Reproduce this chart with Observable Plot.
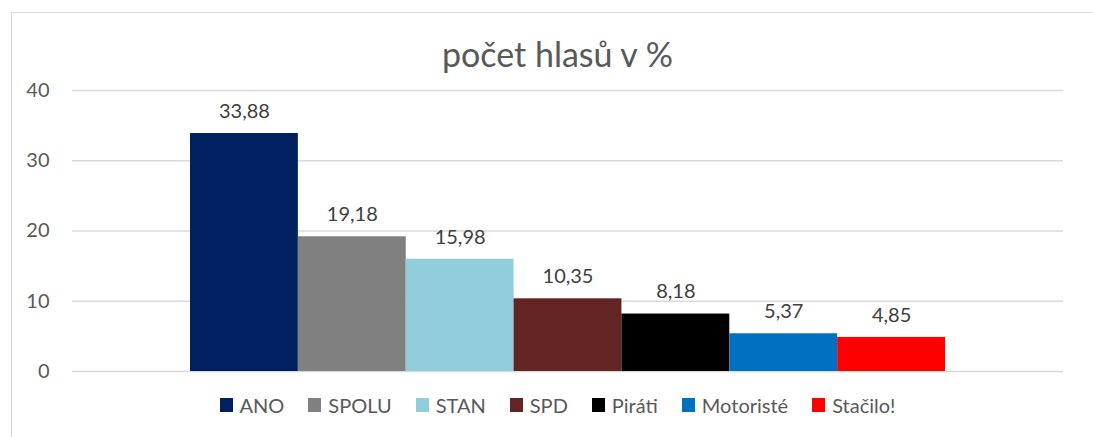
<!DOCTYPE html>
<html>
<head>
<meta charset="utf-8">
<script src="https://cdn.jsdelivr.net/npm/d3@7"></script>
<script src="https://cdn.jsdelivr.net/npm/@observablehq/plot@0.6"></script>
<style>
  html, body { margin: 0; padding: 0; background: #fff; }
  #wrap { position: relative; width: 1093px; height: 437px; overflow: hidden; font-family: Lato, "Open Sans", sans-serif; }
  #border { position: absolute; left: 11px; top: 12px; width: 1100px; height: 440px; border: 1.5px solid #d9d9d9; box-sizing: border-box; }
  #title { position: absolute; left: 0; width: 1115px; top: 33px; text-align: center; font-size: 34px; color: #595959; }
  #chart { position: absolute; left: 0; top: 0; }
  #legend { position: absolute; left: 0; width: 1115px; top: 393px; display: flex; justify-content: center; gap: 0; font-size: 20px; color: #595959; }
  .item { display: flex; align-items: center; margin: 0 12px; }
  .sw { width: 13px; height: 14px; margin-right: 7px; }
</style>
</head>
<body>
<div id="wrap">
  <div id="border"></div>
  <div id="chart"></div>
  <div id="title">počet hlasů v %</div>
  <div id="legend"></div>
</div>
<script>
const parties = ["ANO", "SPOLU", "STAN", "SPD", "Piráti", "Motoristé", "Stačilo!"];
const values = [33.88, 19.18, 15.98, 10.35, 8.18, 5.37, 4.85];
const colors = ["#002060", "#808080", "#92cddc", "#632523", "#000000", "#0070c0", "#ff0000"];
const yTicks = [0, 10, 20, 30, 40];

const data = parties.map((p, i) => ({party: p, value: values[i]}));
const fmt = v => d3.format(".2f")(v).replace(".", ",");

const chart = Plot.plot({
  width: 1093,
  height: 437,
  marginTop: 90,
  marginBottom: 66,
  marginLeft: 72,
  marginRight: 30,
  style: {fontFamily: "Lato, 'Open Sans', sans-serif", fontSize: "18px", color: "#595959", background: "transparent"},
  x: {domain: parties, range: [190, 945], padding: 0, round: false, axis: null},
  y: {domain: [0, 40], ticks: yTicks, tickSize: 0, tickPadding: 23, label: null},
  color: {domain: parties, range: colors},
  marks: [
    Plot.ruleY(yTicks, {stroke: "#d9d9d9", strokeWidth: 1.5, strokeOpacity: 1}),
    Plot.barY(data, {x: "party", y: "value", fill: "party"}),
    Plot.text(data, {x: "party", y: "value", text: d => fmt(d.value), dy: -22, fill: "#404040", fontSize: 20}),
    Plot.axisY({ticks: yTicks, tickSize: 0, tickPadding: 23, fontSize: 20, fill: "#595959"})
  ]
});
document.getElementById("chart").appendChild(chart);

const legend = document.getElementById("legend");
parties.forEach((p, i) => {
  const item = document.createElement("div");
  item.className = "item";
  const sw = document.createElement("span");
  sw.className = "sw";
  sw.style.background = colors[i];
  const t = document.createElement("span");
  t.textContent = p;
  item.appendChild(sw);
  item.appendChild(t);
  legend.appendChild(item);
});
</script>
</body>
</html>
